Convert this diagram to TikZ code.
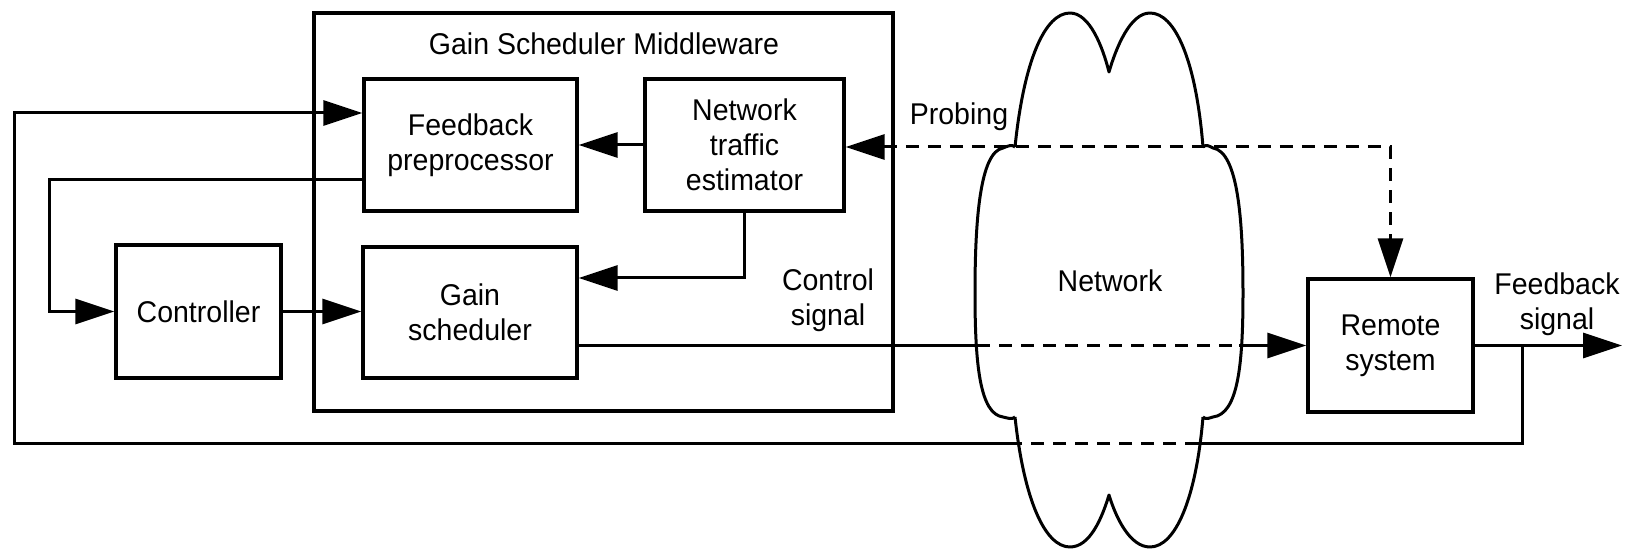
\documentclass[tikz,border=0pt]{standalone}
\usepackage{fontspec}
\setmainfont{Liberation Sans}[FakeStretch=0.95]
\usetikzlibrary{arrows.meta}
\begin{document}
\begin{tikzpicture}[x=0.5pt,y=-0.5pt,
  every node/.style={font=\fontsize{15}{17.5}\selectfont, align=center, inner sep=0pt},
  blk/.style={draw, line width=1.7pt, inner sep=0pt},
  wire/.style={line width=1.5pt},
  tip/.tip={Triangle[length=19.5pt,width=12.5pt]},
  sig/.style={wire, -tip},
  dsh/.style={dash pattern=on 6.5pt off 4.5pt},
  cloudline/.style={line width=1.5pt, line join=round},
]
\useasboundingbox (0,0) rectangle (1630,551);

% middleware container and its blocks
\node[blk, minimum width=289.5pt, minimum height=199pt] (mw) at (603.5,212) {};
\node (title) at (604,44) {Gain Scheduler Middleware};
\node[blk, minimum width=106.5pt, minimum height=66pt] (fp) at (470.5,145) {Feedback\\preprocessor};
\node[blk, minimum width=99.5pt, minimum height=66pt] (est) at (744.5,145) {Network\\traffic\\estimator};
\node[blk, minimum width=107pt, minimum height=65.5pt] (gs) at (470,312.5) {Gain\\scheduler};
\node[blk, minimum width=82.5pt, minimum height=66.5pt] (ctl) at (198.5,311.5) {Controller};
\node[blk, minimum width=82.5pt, minimum height=66.5pt] (rs) at (1390.5,345.5) {Remote\\system};

% labels
\node (probe) at (959,117) {Probing};
\node (ctext) at (828,300) {Control\\signal};
\node (ftext) at (1557,304) {Feedback\\signal};
\node (net) at (1110,281) {Network};

% routing points
\coordinate (lx) at (49,0);
\coordinate (out) at (1622,345.5);
\coordinate (br) at (1522,345.5);
\coordinate (fbR) at (1198,443);
\coordinate (fbL) at (1018,443);
\coordinate (fbC) at (14,443);
\coordinate (csL) at (977,345.5);
\coordinate (csR) at (1239,345.5);

% feedback path from the remote system back to the preprocessor
\draw[sig] (rs.east) -- (out);
\draw[wire] (br) |- (fbR);
\draw[wire, dsh] (fbR) -- (fbL);
\draw[sig] (fbL) -- (fbC) |- ([yshift=16pt]fp.west);

% preprocessor -> controller -> gain scheduler
\draw[sig] ([yshift=-17.5pt]fp.west) -- ([yshift=-17.5pt]fp.west -| lx) |- (ctl.west);
\draw[sig] (ctl.east) -- (ctl.east -| gs.west);

% estimator outputs
\draw[sig] (est.west) -- (fp.east);
\draw[sig] (est.south) |- ([yshift=17.25pt]gs.east);

% probing
\draw[wire, dsh, tip-tip] ([yshift=-1pt]est.east) -| (rs.north);

% control signal through the network
\draw[wire] (gs.east |- csL) -- (csL);
\draw[wire, dsh] (csL) -- (csR);
\draw[sig] (csR) -- (rs.west);

% network cloud
\draw[cloudline]
  (1015,147) .. controls (1024,60) and (1045,13) .. (1070,13)
  .. controls (1090,13) and (1103,48) .. (1109,72)
  .. controls (1116,48) and (1130,13) .. (1150,13)
  .. controls (1175,13) and (1196,60) .. (1203,147);
\draw[cloudline]
  (1203,147) .. controls (1206,144) and (1209,146) .. (1213,148)
  .. controls (1238,152) and (1243,220) .. (1243,293)
  .. controls (1243,365) and (1238,414) .. (1213,417)
  .. controls (1209,418) and (1206,420) .. (1203,417);
\draw[cloudline]
  (1203,417) .. controls (1196,500) and (1175,547) .. (1150,547)
  .. controls (1130,547) and (1116,518) .. (1109,495)
  .. controls (1102,518) and (1090,547) .. (1070,547)
  .. controls (1045,547) and (1024,500) .. (1015,417);
\draw[cloudline]
  (1015,417) .. controls (1012,420) and (1008,418) .. (1003,417)
  .. controls (980,414) and (975,365) .. (975,293)
  .. controls (975,220) and (980,152) .. (1003,148)
  .. controls (1008,146) and (1012,144) .. (1015,147);
\end{tikzpicture}
\end{document}
